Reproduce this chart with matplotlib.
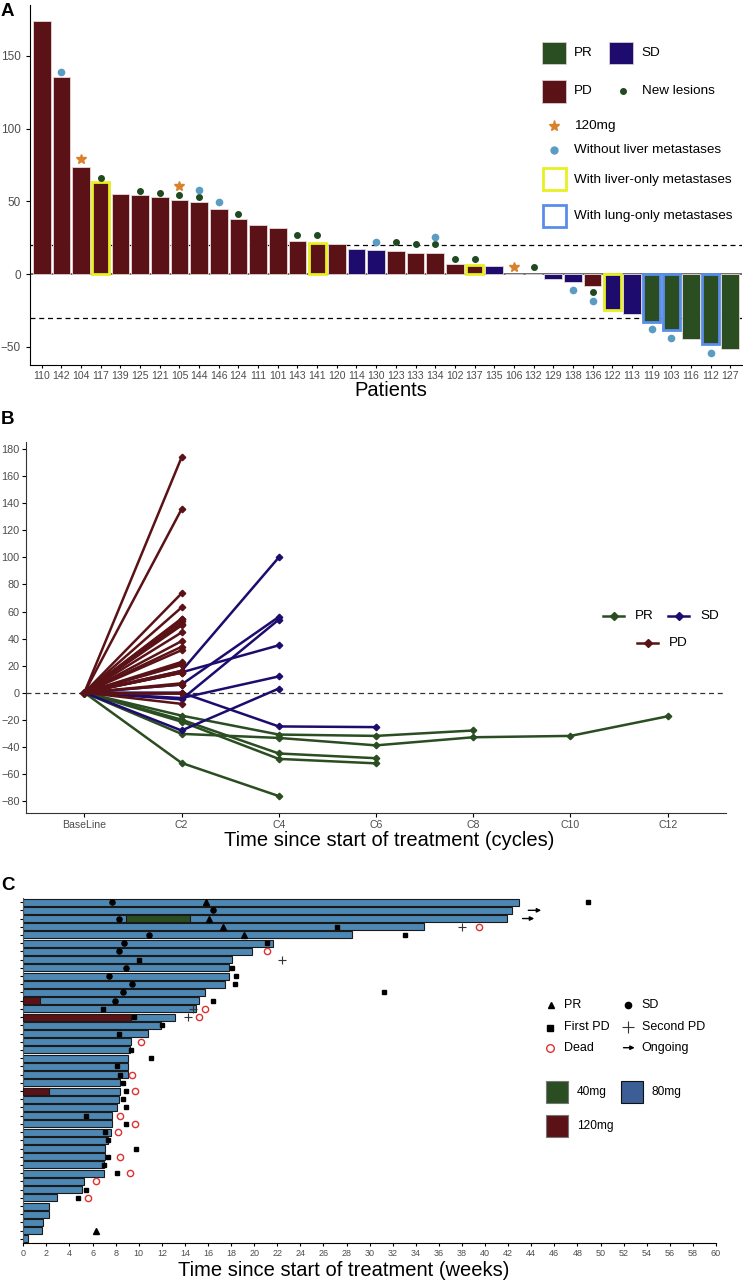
import matplotlib
matplotlib.use("Agg")
import matplotlib.pyplot as plt
from matplotlib.patches import Rectangle

plt.rcParams['font.family'] = ['Liberation Sans', 'DejaVu Sans']

# ---------------- panel A data ----------------
patients = ['110', '142', '104', '117', '139', '125', '121', '105', '144', '146', '124', '111',
            '101', '143', '141', '120', '114', '130', '123', '133', '134', '102', '137', '135',
            '106', '132', '129', '138', '136', '122', '113', '119', '103', '116', '112', '127']
change = [174.0, 135.7, 73.4, 63.0, 54.8, 54.1, 52.7, 50.9, 49.7, 44.5, 38.1, 33.9,
          31.4, 22.7, 21.5, 20.4, 17.0, 16.3, 16.1, 14.7, 14.7, 6.9, 6.0, 5.5,
          0.0, 0.0, -3.7, -5.7, -8.3, -24.8, -27.7, -33.0, -38.1, -44.7, -48.4, -51.6]
response = ['PD'] * 16 + ['SD', 'SD', 'PD', 'PD', 'PD', 'PD', 'PD', 'SD', 'PD', 'PD',
                          'SD', 'SD', 'PD', 'SD', 'SD', 'PR', 'PR', 'PR', 'PR', 'PR']
liver_only = ['117', '141', '137', '122']
lung_only = ['119', '103', '112']
new_lesion_pts = ['117', '125', '121', '105', '144', '124', '143', '141', '123', '133', '134',
                  '102', '137', '132', '136']
new_lesion_y = [66.2, 57.1, 55.7, 54.1, 52.7, 41.5, 26.8, 26.8, 21.8, 20.4, 20.4,
                10.1, 10.1, 5.0, -12.4]
no_liver_pts = ['142', '144', '146', '130', '134', '138', '136', '119', '103', '112']
no_liver_y = [139.0, 58.0, 49.3, 21.8, 25.4, -11.2, -18.6, -38.0, -43.8, -54.1]
dose120_pts = ['104', '105', '106']
dose120_y = [79.0, 60.7, 5.0]

# ---------------- panel B data ----------------
cycles = ['BaseLine', 'C2', 'C4', 'C6', 'C8', 'C10', 'C12']
pd_lines = [[0, 174.0], [0, 135.7], [0, 73.4], [0, 63.0], [0, 54.8], [0, 54.1], [0, 52.7],
            [0, 50.9], [0, 49.7], [0, 44.5], [0, 38.1], [0, 33.9], [0, 31.4], [0, 22.7],
            [0, 21.5], [0, 20.4], [0, 16.1], [0, 14.7], [0, 14.7], [0, 6.9], [0, 6.0],
            [0, 0.0], [0, 0.0], [0, -8.3]]
sd_lines = [[0, 16, 100], [0, 15, 35], [0, 6, 56], [0, -5, 54], [0, -4, 12], [0, -28, 3],
            [0, 0, -25, -25.5]]
pr_lines = [[0, -17, -31, -32, -28], [0, -30.5, -33.5, -39, -33, -32, -17.5],
            [0, -20, -45, -48.5], [0, -21.5, -49, -52.3], [0, -52, -76.5]]

# ---------------- panel C data ----------------
weeks = [42.9, 42.3, 41.9, 34.7, 28.5, 21.6, 19.8, 18.1, 17.8, 17.8, 17.5, 15.7, 15.2, 15.0,
         13.1, 11.9, 10.8, 9.3, 9.2, 9.1, 9.1, 9.1, 8.4, 8.4, 8.3, 8.1, 7.7, 7.7, 7.6, 7.3,
         7.1, 7.1, 7.0, 7.0, 5.3, 5.1, 2.9, 2.2, 2.2, 1.7, 1.6, 0.4]
dose40 = [(3, 8.9, 14.4)]
dose120 = [(13, 0, 1.45), (15, 0, 9.3), (24, 0, 2.2)]
pr_ev = [(1, 15.8), (3, 16.1), (4, 17.3), (5, 19.1), (41, 6.3)]
sd_ev = [(1, 7.7), (2, 16.4), (3, 8.3), (5, 10.9), (6, 8.7), (7, 8.3), (9, 8.9), (10, 7.4),
         (11, 9.4), (12, 8.6), (13, 7.9)]
pd1_ev = [(1, 48.9), (4, 27.2), (5, 33.1), (6, 21.1), (8, 10.0), (9, 18.1), (10, 18.4),
          (11, 18.3), (12, 31.2), (13, 16.4), (14, 6.9), (15, 9.6), (16, 12.0), (17, 8.3),
          (19, 9.3), (20, 11.1), (21, 8.1), (22, 8.4), (23, 8.6), (24, 8.9), (25, 8.6),
          (26, 8.9), (27, 5.4), (28, 8.9), (29, 7.1), (30, 7.3), (31, 9.8), (32, 7.3),
          (33, 7.0), (34, 8.1), (36, 5.4), (37, 4.7)]
pd2_ev = [(4, 38.0), (8, 22.4), (14, 14.7), (15, 14.3)]
dead_ev = [(4, 39.5), (7, 21.1), (14, 15.7), (15, 15.2), (18, 10.2), (22, 9.4), (24, 9.7),
           (27, 8.4), (28, 9.7), (29, 8.2), (32, 8.4), (34, 9.2), (35, 6.3), (37, 5.6)]
ongoing = [(2, 43.5, 45.1), (3, 43.0, 44.5)]

# colours
c_pd = '#5a1216'
c_sd = '#1e0b6e'
c_pr = '#2a4d21'
c_yel = '#e8f022'
c_lung = '#5a8dea'
c_dot = '#5b9cc3'
c_new = '#1f4a1f'
c_star = '#d9822b'
c_bar = '#4d87b3'
resp_col = {'PD': c_pd, 'SD': c_sd, 'PR': c_pr}
tick_col = '#4d4d4d'

W, H = 743, 1283
fig = plt.figure(figsize=(W / 100, H / 100), dpi=100)


def px_axes(left, top, right, bottom):
    return fig.add_axes([left / W, 1 - bottom / H, (right - left) / W, (bottom - top) / H])


# ================= A =================
axA = px_axes(30, 5, 742, 365)
x = list(range(len(patients)))
axA.bar(x, change, width=0.9, color=[resp_col[r] for r in response],
        edgecolor='#e8dada', linewidth=0.6, zorder=2)
for p in liver_only + lung_only:
    i = patients.index(p)
    axA.bar(i, change[i], width=0.88, facecolor='none',
            edgecolor=c_yel if p in liver_only else c_lung, linewidth=2, zorder=3)
axA.axhline(0, color='#555555', lw=1.2, zorder=1)
axA.axhline(20, color='black', lw=0.9, ls=(0, (4, 3)), zorder=1)
axA.axhline(-30, color='black', lw=0.9, ls=(0, (4, 3)), zorder=1)
axA.plot([patients.index(p) for p in new_lesion_pts], new_lesion_y, 'o', color=c_new, ms=4, zorder=4)
axA.plot([patients.index(p) for p in no_liver_pts], no_liver_y, 'o', color=c_dot, ms=4.5, zorder=4)
axA.plot([patients.index(p) for p in dose120_pts], dose120_y, '*', color=c_star, ms=7.5, zorder=4)
axA.set_xlim(-0.6, 35.6)
axA.set_ylim(-62.5, 185)
axA.set_xticks(x)
axA.set_xticklabels(patients, fontsize=7.6, color=tick_col)
axA.set_yticks([-50, 0, 50, 100, 150])
axA.tick_params(axis='y', labelsize=8.5, labelcolor=tick_col, length=3)
axA.tick_params(axis='x', length=2, pad=2)
for s in ['top', 'right']:
    axA.spines[s].set_visible(False)

# ================= B =================
axB = px_axes(26, 441.7, 726, 812.7)
for ln in pr_lines:
    axB.plot(range(len(ln)), ln, '-D', color=c_pr, lw=1.8, ms=3.3)
for ln in sd_lines:
    axB.plot(range(len(ln)), ln, '-D', color=c_sd, lw=1.8, ms=3.3)
for ln in pd_lines:
    axB.plot(range(len(ln)), ln, '-D', color=c_pd, lw=1.8, ms=3.3)
axB.axhline(0, color='#333333', lw=0.9, ls=(0, (4, 3)), zorder=0)
axB.set_xlim(-0.6, 6.6)
axB.set_ylim(-88.8, 185.6)
axB.set_xticks(range(len(cycles)))
axB.set_xticklabels(cycles, fontsize=7.6, color=tick_col)
axB.set_yticks(range(-80, 181, 20))
axB.tick_params(axis='y', labelsize=7.8, labelcolor=tick_col, length=3, pad=1.5)
axB.tick_params(axis='x', length=3, pad=2)
for s in ['top', 'right']:
    axB.spines[s].set_visible(False)
for s in ['left', 'bottom']:
    axB.spines[s].set_color('#333333')

# ================= C =================
axC = px_axes(23.3, 898, 716, 1243)
rows = list(range(1, len(weeks) + 1))
axC.barh(rows, weeks, height=0.85, color=c_bar, edgecolor='#1a1a1a', linewidth=0.8, zorder=2)
for r, a, b in dose40:
    axC.barh(r, b - a, left=a, height=0.85, color=c_pr, edgecolor='#1a1a1a', linewidth=0.8, zorder=3)
for r, a, b in dose120:
    axC.barh(r, b - a, left=a, height=0.85, color=c_pd, edgecolor='#1a1a1a', linewidth=0.8, zorder=3)
axC.plot([e[1] for e in sd_ev], [e[0] for e in sd_ev], 'o', color='black', ms=3.7, zorder=5)
axC.plot([e[1] for e in pr_ev], [e[0] for e in pr_ev], '^', color='black', ms=4.3, zorder=5)
axC.plot([e[1] for e in pd1_ev], [e[0] for e in pd1_ev], 's', color='black', ms=3.3, zorder=5)
axC.plot([e[1] for e in pd2_ev], [e[0] for e in pd2_ev], '+', color='#333333', ms=6, mew=0.8, zorder=5)
axC.plot([e[1] for e in dead_ev], [e[0] for e in dead_ev], 'o', mfc='none', mec='#e03030',
         ms=4.5, mew=1, zorder=5)
for r, a, b in ongoing:
    axC.annotate('', xy=(b, r), xytext=(a, r),
                 arrowprops=dict(arrowstyle='-|>', color='black', lw=1, mutation_scale=6))
axC.set_xlim(0, 60)
axC.set_ylim(42.5, 0.5)
axC.set_xticks(range(0, 61, 2))
axC.set_yticks(rows)
axC.set_yticklabels([])
axC.tick_params(axis='x', labelsize=6.5, labelcolor=tick_col, length=2.5, pad=2)
axC.tick_params(axis='y', length=2.5)
for s in ['top', 'right']:
    axC.spines[s].set_visible(False)
axC.spines['left'].set_color('#555555')

# ================= overlay: labels and legends =================
ov = fig.add_axes([0, 0, 1, 1], zorder=10)
ov.set_xlim(0, W)
ov.set_ylim(H, 0)
ov.axis('off')
ov.patch.set_alpha(0)

for lab, yy in [('A', 12), ('B', 420), ('C', 885)]:
    ov.text(1, yy, lab, fontsize=13.5, fontweight='bold', va='center', ha='left')
ov.text(391, 391, 'Patients', fontsize=14.5, ha='center', va='center')
ov.text(389, 841, 'Time since start of treatment (cycles)', fontsize=14.5, ha='center', va='center')
ov.text(344, 1271, 'Time since start of treatment (weeks)', fontsize=14.5, ha='center', va='center')

# legend A
lfs = 9.7
for x0, y0, col, lab in [(541.7, 41.7, c_pr, 'PR'), (609.3, 41.7, c_sd, 'SD'), (541.7, 80, c_pd, 'PD')]:
    ov.add_patch(Rectangle((x0, y0), 24, 22.5, facecolor=col, edgecolor='#d8cccc', lw=0.6))
    ov.text(x0 + 32, y0 + 11.5, lab, fontsize=lfs, va='center')
ov.plot(623, 91, 'o', color=c_new, ms=4)
ov.text(642, 91, 'New lesions', fontsize=lfs, va='center')
ov.plot(554, 126, '*', color=c_star, ms=8)
ov.text(574, 126, '120mg', fontsize=lfs, va='center')
ov.plot(554, 150, 'o', color=c_dot, ms=5)
ov.text(574, 150, 'Without liver metastases', fontsize=lfs, va='center')
ov.add_patch(Rectangle((542.5, 167.5), 23, 22, facecolor='none', edgecolor=c_yel, lw=2))
ov.text(574, 180, 'With liver-only metastases', fontsize=lfs, va='center')
ov.add_patch(Rectangle((542.5, 205), 23, 22, facecolor='none', edgecolor=c_lung, lw=2))
ov.text(574, 216, 'With lung-only metastases', fontsize=lfs, va='center')

# legend B
for x0, y0, col, lab in [(603, 616, c_pr, 'PR'), (668, 616, c_sd, 'SD'), (637, 643, c_pd, 'PD')]:
    ov.plot([x0, x0 + 21], [y0, y0], '-', color=col, lw=1.8)
    ov.plot(x0 + 10.5, y0, 'D', color=col, ms=4)
    ov.text(x0 + 32, y0, lab, fontsize=lfs, va='center')

# legend C
cfs = 9
ov.plot(550.7, 1005.3, '^', color='black', ms=5)
ov.text(564, 1005.3, 'PR', fontsize=cfs, va='center')
ov.plot(627.7, 1005.3, 'o', color='black', ms=4.5)
ov.text(641.7, 1005.3, 'SD', fontsize=cfs, va='center')
ov.plot(550, 1028, 's', color='black', ms=4)
ov.text(564, 1027, 'First PD', fontsize=cfs, va='center')
ov.plot(627.7, 1027, '+', color='#333333', ms=8, mew=0.8)
ov.text(641.7, 1027, 'Second PD', fontsize=cfs, va='center')
ov.plot(550, 1047.7, 'o', mfc='none', mec='#e03030', ms=5.5, mew=1)
ov.text(564, 1047.7, 'Dead', fontsize=cfs, va='center')
ov.annotate('', xy=(637.5, 1047.7), xytext=(620.7, 1047.7),
            arrowprops=dict(arrowstyle='-|>', color='black', lw=1, mutation_scale=6))
ov.text(641.7, 1047.7, 'Ongoing', fontsize=cfs, va='center')

dfs = 8.6
ov.add_patch(Rectangle((545.7, 1081), 22.3, 21.7, facecolor=c_pr, edgecolor='#777777', lw=0.8))
ov.text(576.7, 1092.3, '40mg', fontsize=dfs, va='center')
ov.add_patch(Rectangle((620.7, 1081), 22, 21.7, facecolor='#3c5e96', edgecolor='#111111', lw=0.8))
ov.text(651, 1092.3, '80mg', fontsize=dfs, va='center')
ov.add_patch(Rectangle((545.7, 1115.3), 22.3, 22, facecolor=c_pd, edgecolor='#777777', lw=0.8))
ov.text(576.7, 1125.5, '120mg', fontsize=dfs, va='center')

fig.savefig('out.png', dpi=100)
